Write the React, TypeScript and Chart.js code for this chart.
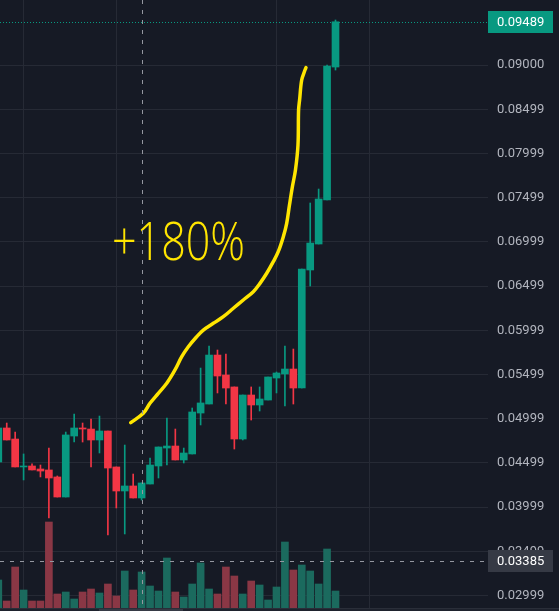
import React, { useEffect, useRef } from 'react';
import { Chart, registerables } from 'chart.js';

Chart.register(...registerables);

// ---- Data ----
const opens = [0.04509, 0.04894, 0.04769, 0.04453, 0.04464, 0.0443, 0.04419, 0.0434, 0.04113, 0.04803, 0.04894, 0.04882, 0.04758, 0.0486, 0.04453, 0.04181, 0.04238, 0.04102, 0.0426, 0.04464, 0.04667, 0.0469, 0.04532, 0.046, 0.05063, 0.05165, 0.05719, 0.05493, 0.05358, 0.04769, 0.05267, 0.05154, 0.0521, 0.05459, 0.05505, 0.05561, 0.05346, 0.06681, 0.06975, 0.07473, 0.08977];
const highs = [0.0492, 0.0495, 0.04848, 0.046, 0.04487, 0.04475, 0.04667, 0.04351, 0.04848, 0.05052, 0.0495, 0.04995, 0.05029, 0.0486, 0.04453, 0.04701, 0.04373, 0.04272, 0.04554, 0.04679, 0.05007, 0.04882, 0.04667, 0.0512, 0.05572, 0.05821, 0.05776, 0.05731, 0.05358, 0.05267, 0.05358, 0.05358, 0.05471, 0.05527, 0.05821, 0.05787, 0.06692, 0.07439, 0.07597, 0.09, 0.09509];
const lows = [0.04498, 0.04758, 0.04453, 0.04306, 0.04419, 0.0434, 0.03876, 0.04113, 0.04113, 0.04735, 0.04735, 0.04453, 0.04611, 0.03683, 0.03989, 0.03695, 0.04102, 0.04079, 0.0426, 0.04328, 0.04475, 0.04532, 0.04498, 0.046, 0.04928, 0.05165, 0.0529, 0.05165, 0.04656, 0.04758, 0.04984, 0.05086, 0.0521, 0.0529, 0.05143, 0.05165, 0.05346, 0.065, 0.06975, 0.07473, 0.08943];
const closes = [0.04894, 0.04758, 0.04453, 0.04464, 0.04419, 0.04407, 0.04328, 0.04113, 0.04815, 0.04894, 0.04882, 0.04758, 0.0486, 0.04441, 0.04181, 0.04238, 0.04102, 0.04272, 0.04475, 0.04679, 0.0469, 0.04532, 0.04611, 0.05075, 0.05177, 0.05719, 0.05482, 0.05346, 0.04769, 0.05267, 0.05154, 0.05222, 0.05471, 0.05516, 0.05561, 0.05346, 0.06692, 0.06986, 0.07484, 0.08989, 0.09489];
const volumes = [280, 70, 410, 180, 70, 70, 860, 140, 160, 90, 160, 190, 150, 240, 120, 370, 180, 360, 220, 170, 500, 160, 110, 240, 450, 190, 140, 410, 320, 140, 270, 230, 80, 210, 660, 380, 430, 370, 240, 590, 170];

const priceTicks = [0.02999, 0.03499, 0.03999, 0.04499, 0.04999, 0.05499, 0.05999, 0.06499, 0.06999, 0.07499, 0.07999, 0.08499, 0.09];
const priceTickLabels = ['0.02999', '0.03499', '0.03999', '0.04499', '0.04999', '0.05499', '0.05999', '0.06499', '0.06999', '0.07499', '0.07999', '0.08499', '0.09000'];
const timeGridIdx = [3, 14, 33, 44];

// hand-drawn annotation (data coordinates: candle index, price)
const annotX = [15.71, 17.2, 17.99, 18.98, 19.98, 20.96, 21.76, 22.54, 23.53, 24.32, 25.5, 26.69, 27.88, 29.06, 30.25, 31.04, 31.84, 32.62, 33.21, 33.81, 34.21, 34.54, 34.9, 35.25, 35.55, 35.62, 35.74, 35.99, 36.38, 36.5];
const annotY = [0.04954, 0.0506, 0.05173, 0.05286, 0.05399, 0.0555, 0.057, 0.05813, 0.05926, 0.06002, 0.06078, 0.06153, 0.06248, 0.06342, 0.06436, 0.0653, 0.06644, 0.06775, 0.06888, 0.07058, 0.07209, 0.07416, 0.07631, 0.07812, 0.08095, 0.08491, 0.08604, 0.0883, 0.08943, 0.0897];
const annotText = '+180%';
const annotTextX = 13.49;
const annotTextY = 0.06794;

const crossIdx = 17;
const crossPrice = 0.03385;

// axis ranges
const X_MIN = 0.2017;
const X_MAX = 58.09;
const Y_MIN = 0.028575;
const Y_MAX = 0.097353;
const VOL_MAX = 6080;

// ---- Styles ----
const BG = '#161a25';
const GRID = '#262a35';
const UP = '#089981';
const DOWN = '#f23645';
const UP_VOL = '#1b6a5e';
const DOWN_VOL = '#8a3745';
const AXIS_TEXT = '#b2b5be';
const YELLOW = '#ffe500';
const CROSS = '#9598a1';

const overlayPlugin = {
  id: 'overlay',
  beforeDraw(chart: any) {
    const ctx = chart.ctx;
    ctx.save();
    ctx.fillStyle = BG;
    ctx.fillRect(0, 0, chart.width, chart.height);
    ctx.restore();
  },
  afterDatasetsDraw(chart: any) {
    const ctx = chart.ctx;
    const xs = chart.scales.x;
    const ys = chart.scales.y;
    const area = chart.chartArea;
    ctx.save();
    // handwritten text
    ctx.fillStyle = YELLOW;
    ctx.font = '300 54px "Open Sans"';
    ctx.textAlign = 'left';
    ctx.textBaseline = 'alphabetic';
    ctx.fillText(annotText, xs.getPixelForValue(annotTextX), ys.getPixelForValue(annotTextY), 133);

    // last price dotted line
    const lastPrice = closes[closes.length - 1];
    const ly = Math.round(ys.getPixelForValue(lastPrice)) + 0.5;
    ctx.strokeStyle = UP;
    ctx.lineWidth = 1;
    ctx.setLineDash([1, 2]);
    ctx.beginPath();
    ctx.moveTo(area.left, ly);
    ctx.lineTo(area.right, ly);
    ctx.stroke();

    // crosshair
    ctx.strokeStyle = CROSS;
    ctx.setLineDash([4, 6]);
    const cx = Math.round(xs.getPixelForValue(crossIdx)) + 0.5;
    const cy = Math.round(ys.getPixelForValue(crossPrice)) + 0.5;
    ctx.beginPath();
    ctx.moveTo(cx, area.top);
    ctx.lineTo(cx, area.bottom);
    ctx.stroke();
    ctx.beginPath();
    ctx.moveTo(area.left, cy);
    ctx.lineTo(area.right, cy);
    ctx.stroke();
    ctx.restore();
  },
  afterDraw(chart: any) {
    const ctx = chart.ctx;
    const ys = chart.scales.y;
    const area = chart.chartArea;
    ctx.save();
    const drawBox = (price: number, color: string) => {
      const y = ys.getPixelForValue(price);
      ctx.fillStyle = color;
      ctx.fillRect(area.right, Math.round(y - 11), 65, 22);
      ctx.fillStyle = '#ffffff';
      ctx.font = '13px Roboto';
      ctx.textAlign = 'left';
      ctx.textBaseline = 'middle';
      ctx.fillText(price.toFixed(5), area.right + 9, y + 0.5);
    };
    drawBox(closes[closes.length - 1], UP);
    drawBox(crossPrice, '#363a45');

    // bottom time-scale strip
    ctx.fillStyle = '#1e222d';
    ctx.fillRect(0, area.bottom, chart.width, chart.height - area.bottom);
    ctx.fillStyle = '#2a2e39';
    ctx.fillRect(0, area.bottom, chart.width, 1);
    ctx.fillStyle = '#363a45';
    ctx.fillRect(99, area.bottom + 1, 84, chart.height - area.bottom - 1);
    ctx.restore();
  },
};

export default function App() {
  const ref = useRef<HTMLCanvasElement | null>(null);

  useEffect(() => {
    document.body.style.margin = '0';
    document.body.style.background = BG;
    const canvas = ref.current;
    if (!canvas) return;
    const idx = opens.map((_, i) => i);
    const up = idx.map((i) => closes[i] >= opens[i]);

    const chart = new Chart(canvas, {
      type: 'bar',
      data: {
        datasets: [
          {
            type: 'line',
            label: 'annotation',
            data: annotX.map((x, k) => ({ x, y: annotY[k] })),
            borderColor: YELLOW,
            borderWidth: 3.5,
            pointRadius: 0,
            tension: 0.35,
            borderCapStyle: 'round',
            borderJoinStyle: 'round',
            xAxisID: 'x',
            yAxisID: 'y',
            order: 0,
          } as any,
          {
            type: 'bar',
            label: 'body',
            data: idx.map((i) => ({ x: i, y: [opens[i], closes[i]] })),
            backgroundColor: idx.map((i) => (up[i] ? UP : DOWN)),
            barThickness: 7,
            grouped: false,
            borderWidth: 0,
            xAxisID: 'x',
            yAxisID: 'y',
            order: 1,
          } as any,
          {
            type: 'bar',
            label: 'wick',
            data: idx.map((i) => ({ x: i, y: [lows[i], highs[i]] })),
            backgroundColor: idx.map((i) => (up[i] ? UP : DOWN)),
            barThickness: 1,
            grouped: false,
            borderWidth: 0,
            xAxisID: 'x',
            yAxisID: 'y',
            order: 2,
          } as any,
          {
            type: 'bar',
            label: 'volume',
            data: idx.map((i) => ({ x: i, y: volumes[i] })),
            backgroundColor: idx.map((i) => (up[i] ? UP_VOL : DOWN_VOL)),
            barThickness: 7,
            grouped: false,
            borderWidth: 0,
            xAxisID: 'x',
            yAxisID: 'vol',
            order: 3,
          } as any,
        ],
      },
      options: {
        responsive: false,
        animation: false,
        devicePixelRatio: 1,
        events: [],
        layout: { padding: 0 },
        plugins: {
          legend: { display: false },
          tooltip: { enabled: false },
        },
        scales: {
          x: {
            type: 'linear',
            min: X_MIN,
            max: X_MAX,
            bounds: 'data',
            offset: false,
            afterBuildTicks: (s: any) => {
              s.ticks = timeGridIdx.map((v) => ({ value: v }));
            },
            afterFit: (s: any) => {
              s.height = 3;
              s.paddingLeft = 0;
              s.paddingRight = 0;
              s.paddingTop = 0;
              s.paddingBottom = 0;
            },
            grid: { color: GRID, drawTicks: false, lineWidth: 1, offset: false },
            border: { display: false },
            ticks: { display: false },
          },
          y: {
            type: 'linear',
            position: 'right',
            min: Y_MIN,
            max: Y_MAX,
            bounds: 'data',
            afterBuildTicks: (s: any) => {
              s.ticks = priceTicks.map((v) => ({ value: v }));
            },
            afterFit: (s: any) => {
              s.width = 71;
              s.paddingTop = 0;
              s.paddingBottom = 0;
              s.paddingLeft = 0;
              s.paddingRight = 0;
            },
            grid: { color: GRID, drawTicks: false, lineWidth: 1 },
            border: { display: false },
            ticks: {
              color: AXIS_TEXT,
              font: { family: 'Roboto', size: 13 },
              padding: 9,
              autoSkip: false,
              callback: (_v: any, i: number) => priceTickLabels[i],
            },
          },
          vol: {
            type: 'linear',
            display: false,
            min: 0,
            max: VOL_MAX,
            position: 'left',
          },
        },
      } as any,
      plugins: [overlayPlugin],
    });
    return () => chart.destroy();
  }, []);

  return (
    <canvas
      ref={ref}
      width={559}
      height={611}
      style={{ display: 'block', width: '559px', height: '611px' }}
    />
  );
}
